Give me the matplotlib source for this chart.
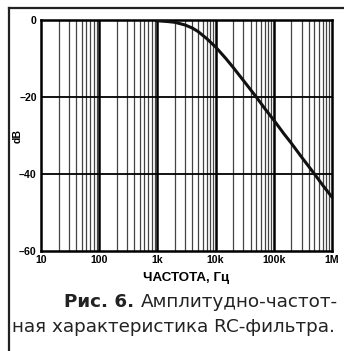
import matplotlib
matplotlib.use("Agg")
import matplotlib.pyplot as plt
from matplotlib.lines import Line2D

# frequency response of the RC filter
freq_hz = [1e3, 1.5e3, 2e3, 3e3, 4e3, 5e3, 7e3, 1e4, 1.5e4, 2e4, 3e4, 5e4,
           7e4, 1e5, 1.5e5, 2e5, 3e5, 5e5, 7e5, 1e6]
gain_db = [-0.2, -0.4, -0.6, -1.3, -2.1, -3.0, -4.8, -7.0, -10.0, -12.3,
           -15.7, -20.0, -23.0, -26.0, -29.6, -32.0, -35.6, -40.0, -43.0, -46.0]

x_ticks = [10, 100, 1e3, 1e4, 1e5, 1e6]
x_labels = ["10", "100", "1k", "10k", "100k", "1M"]
y_ticks = [0, -20, -40, -60]
y_labels = ["0", "–20", "–40", "–60"]

fig = plt.figure(figsize=(3.44, 3.51), dpi=100)
ax = fig.add_axes([41 / 344, 1 - 251 / 351, 291 / 344, 231 / 351])

ax.set_xscale("log")
ax.set_xlim(10, 1e6)
ax.set_ylim(-60, 0)

# grid: thin lines for 2..9 of each decade, heavy ones on decades
for dec in [10, 100, 1e3, 1e4, 1e5]:
    for k in range(2, 10):
        ax.axvline(dec * k, color="#444444", lw=0.9, zorder=1)
for dec in x_ticks[1:-1]:
    ax.axvline(dec, color="black", lw=1.8, zorder=1)
for y in [-20, -40]:
    ax.axhline(y, color="black", lw=1.3, zorder=1)

ax.plot(freq_hz, gain_db, color="#111111", lw=2.2, zorder=3,
        solid_capstyle="round")

for s in ax.spines.values():
    s.set_linewidth(1.8)

bold = dict(family="Liberation Sans", weight="bold", size=7.6)
ax.set_xticks(x_ticks)
ax.set_xticklabels(x_labels, **bold)
ax.set_yticks(y_ticks)
ax.set_yticklabels(y_labels, **bold)
ax.xaxis.set_minor_locator(matplotlib.ticker.NullLocator())
ax.tick_params(length=0, pad=3)
ax.set_xlabel("ЧАСТОТА, Гц", family="Liberation Sans", weight="bold",
              size=9.6, labelpad=5)
fig.text(18 / 344, 1 - 136 / 351, "dB", rotation=90, ha="center",
         va="center", **bold)

# frame around the figure and caption
fig.add_artist(Line2D([9 / 344, 9 / 344], [0, 1 - 8 / 351],
                      color="#222222", lw=1.6))
fig.add_artist(Line2D([9 / 344, 1], [1 - 8 / 351, 1 - 8 / 351],
                      color="#222222", lw=1.6))

cap = dict(family="DejaVu Sans", size=13.2, color="#222222")
t1 = fig.text(338 / 344, 1 - 302 / 351, "Амплитудно-частот-", ha="right",
              va="center", **cap)
fig.text(12 / 344, 1 - 327 / 351, "ная характеристика RC-фильтра.",
         ha="left", va="center", **cap)

# bold figure number just left of the first caption line
fig.canvas.draw()
x0 = t1.get_window_extent().x0 / fig.bbox.width
fig.text(x0 - 7 / 344, 1 - 302 / 351, "Рис. 6.", ha="right", va="center",
         weight="bold", **cap)

fig.savefig("out.png", dpi=100)
